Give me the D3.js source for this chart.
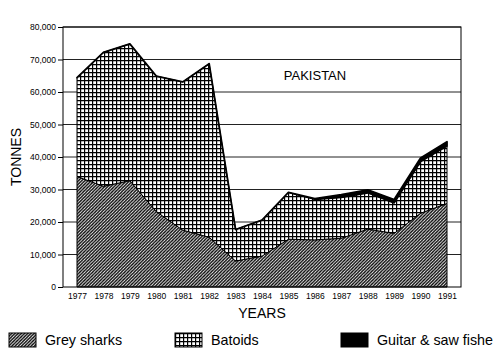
<!DOCTYPE html>
<html><head><meta charset="utf-8">
<script src="https://cdn.jsdelivr.net/npm/d3@7"></script>
<style>body{margin:0;background:#fff;}svg{display:block;font-family:Arial,"Liberation Sans",sans-serif;}</style>
</head><body><svg id="c" width="500" height="360"></svg>
<script>
const years = [1977,1978,1979,1980,1981,1982,1983,1984,1985,1986,1987,1988,1989,1990,1991];
const greySharks = [34000,31000,32700,23200,17500,15300,8000,9500,14700,14500,15000,17800,16500,22700,25700];
const batoids = [30400,41200,42100,41700,45600,53400,9700,11100,14400,12500,12600,11200,9400,15900,17700];
const guitarSaw = [0,0,0,0,0,0,0,0,0,200,800,900,1000,1100,1300];
const yTicks = [0,10000,20000,30000,40000,50000,60000,70000,80000];
const seriesNames = ["Grey sharks","Batoids","Guitar & saw fishe"];

const svg = d3.select("#c");
const W0 = 63, W1 = 461, T = 27, B = 287;
const x = d3.scaleLinear().domain([1977,1991]).range([77,447]);
const y = d3.scaleLinear().domain([0,80000]).range([B,T]);

const defs = svg.append("defs");
const hatch = defs.append("pattern").attr("id","hatch").attr("patternUnits","userSpaceOnUse").attr("width",3.2).attr("height",3.2);
hatch.append("rect").attr("width",3.2).attr("height",3.2).attr("fill","#fff");
hatch.append("path").attr("d","M-1,1 L1,-1 M0,3.2 L3.2,0 M2.2,4.2 L4.2,2.2").attr("stroke","#000").attr("stroke-width",1.3);
const grid = defs.append("pattern").attr("id","grid").attr("patternUnits","userSpaceOnUse").attr("width",4).attr("height",4);
grid.append("rect").attr("width",4).attr("height",4).attr("fill","#fff");
grid.append("path").attr("d","M0,0.6 H4 M0.6,0 V4").attr("stroke","#000").attr("stroke-width",1.2);

// gridlines
svg.append("g").selectAll("line").data(yTicks.filter(d=>d>0)).join("line")
  .attr("x1",W0).attr("x2",W1).attr("y1",d=>y(d)).attr("y2",d=>y(d))
  .attr("stroke","#222").attr("stroke-width",1);

const data = years.map((yr,i)=>({year:yr, g:greySharks[i], b:batoids[i], s:guitarSaw[i]}));
const stack = d3.stack().keys(["g","b","s"])(data);
const area = d3.area().x(d=>x(d.data.year)).y0(d=>y(d[0])).y1(d=>y(d[1]));
const fills = ["url(#hatch)","url(#grid)","#000"];
svg.append("g").selectAll("path").data(stack).join("path")
  .attr("d",area).attr("fill",(d,i)=>fills[i]).attr("stroke","#000").attr("stroke-width",(d,i)=>i==2?1.8:1).attr("stroke-linejoin","round");

// frame
svg.append("rect").attr("x",W0).attr("y",T).attr("width",W1-W0).attr("height",B-T).attr("fill","none").attr("stroke","#000").attr("stroke-width",1);

// y axis
const yAxis = d3.axisLeft(y).tickValues(yTicks).tickSize(5).tickPadding(2).tickFormat(d3.format(","));
const gy = svg.append("g").attr("transform",`translate(${W0},0)`).call(yAxis);
gy.select(".domain").remove();
gy.selectAll("text").attr("font-size",8.5).attr("font-family","Arial,'Liberation Sans',sans-serif").attr("fill","#000");
gy.selectAll("line").attr("stroke","#000");

// x axis
const xAxis = d3.axisBottom(x).tickValues(years).tickSize(0).tickPadding(6).tickFormat(d3.format("d"));
const gx = svg.append("g").attr("transform",`translate(0,${B})`).call(xAxis);
gx.select(".domain").remove();
gx.selectAll("text").attr("font-size",8.5).attr("font-family","Arial,'Liberation Sans',sans-serif").attr("fill","#000");

svg.append("text").attr("x",262).attr("y",318).attr("text-anchor","middle").attr("font-size",14).text("YEARS");
svg.append("text").attr("transform","translate(21,157) rotate(-90)").attr("text-anchor","middle").attr("font-size",14).text("TONNES");
svg.append("text").attr("x",315).attr("y",80).attr("text-anchor","middle").attr("font-size",13).text("PAKISTAN");

// legend
const legX = [9,175,341];
const legFill = ["url(#hatch)","url(#grid)","#000"];
const lg = svg.append("g").selectAll("g").data(seriesNames).join("g").attr("transform",(d,i)=>`translate(${legX[i]},333)`);
lg.append("rect").attr("width",27).attr("height",14).attr("fill",(d,i)=>legFill[i]).attr("stroke","#000").attr("stroke-width",1);
lg.append("text").attr("x",36).attr("y",12).attr("font-size",14.3).text(d=>d);
</script></body></html>
